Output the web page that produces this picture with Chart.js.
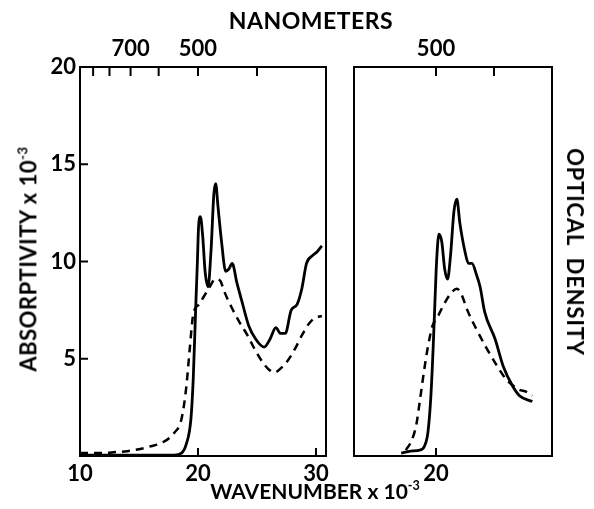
<!DOCTYPE html>
<html>
<head>
<meta charset="utf-8">
<script src="https://cdn.jsdelivr.net/npm/chart.js@4.4.1/dist/chart.umd.min.js"></script>
<style>
  body { margin: 0; background: #fff; }
  #wrap { position: relative; width: 594px; height: 509px; overflow: hidden; font-family: Lato, sans-serif; font-weight: bold; color: #000; }
  canvas { position: absolute; top: 0; }
  .lbl { position: absolute; white-space: nowrap; line-height: 1; }
  .lbl sup { font-size: 0.6em; vertical-align: 0.7em; }
</style>
</head>
<body>
<div id="wrap">
  <canvas id="leftCanvas" width="340" height="509" style="left:0"></canvas>
  <canvas id="rightCanvas" width="254" height="509" style="left:340px"></canvas>
  <div class="lbl" id="nmTitle" style="left:311px; top:20px; font-size:23px; letter-spacing:0.5px; transform:translate(-50%,-50%)">NANOMETERS</div>
  <div class="lbl" id="wnTitle" style="left:315px; top:490px; font-size:21px; transform:translate(-50%,-50%)">WAVENUMBER x 10<sup>-3</sup></div>
  <div class="lbl" id="absTitle" style="left:28px; top:259px; font-size:22px; letter-spacing:0.5px; transform:translate(-50%,-50%) rotate(-90deg)">ABSORPTIVITY x 10<sup>-3</sup></div>
  <div class="lbl" id="odTitle" style="left:575px; top:252px; font-size:22px; letter-spacing:0.8px; transform:translate(-50%,-50%) rotate(90deg)">OPTICAL&nbsp; DENSITY</div>
</div>
<script>
// wavenumber x 10^-3 on the x axis, absorptivity x 10^-3 on the y axis

// left panel
var leftSolidX = [10, 12, 14, 16, 18, 18.6, 19.0, 19.4, 19.6, 19.8, 19.95, 20.05, 20.2, 20.4, 20.6, 20.85, 21.1, 21.35, 21.5, 21.7, 22.0, 22.35, 22.6, 22.9, 23.3, 23.7, 24.3, 24.9, 25.6, 26.1, 26.6, 27.0, 27.4, 27.9, 28.4, 28.8, 29.2, 29.7, 30.1, 30.5];
var leftSolidY = [0.05, 0.05, 0.05, 0.05, 0.05, 0.15, 0.6, 1.9, 4.0, 7.5, 10.0, 11.8, 12.3, 11.3, 9.5, 8.7, 10.5, 13.5, 14.0, 12.8, 11.0, 9.5, 9.6, 9.9, 8.9, 8.0, 6.7, 6.0, 5.6, 6.0, 6.6, 6.3, 6.3, 7.5, 7.8, 8.6, 9.9, 10.3, 10.5, 10.8];

var leftDashX = [10, 12, 13, 14, 15, 16, 17, 18, 18.6, 19.0, 19.3, 19.6, 20.1, 20.5, 20.9, 21.5, 21.9, 22.2, 22.8, 23.5, 24.2, 24.8, 25.5, 26.0, 26.5, 27.0, 27.6, 28.3, 28.8, 29.4, 29.9, 30.5];
var leftDashY = [0.15, 0.15, 0.2, 0.25, 0.35, 0.5, 0.7, 1.2, 1.9, 3.5, 5.5, 7.3, 7.8, 8.2, 8.6, 9.1, 9.0, 8.5, 7.7, 6.9, 6.2, 5.5, 4.8, 4.45, 4.3, 4.5, 4.9, 5.6, 6.2, 6.8, 7.1, 7.2];

// right panel
var rightSolidX = [17.0, 17.8, 18.6, 19.0, 19.3, 19.55, 19.75, 19.9, 20.05, 20.25, 20.5, 20.75, 21.0, 21.25, 21.55, 21.8, 22.05, 22.5, 22.8, 23.1, 23.5, 23.8, 24.2, 25.1, 25.8, 26.6, 27.2, 28.3];
var rightSolidY = [0.15, 0.25, 0.3, 0.5, 1.2, 3.0, 5.5, 7.8, 10.0, 11.4, 11.0, 9.6, 9.1, 10.3, 12.6, 13.2, 12.0, 10.5, 9.9, 9.9, 9.3, 8.7, 7.4, 6.0, 4.6, 3.6, 3.1, 2.8];

var rightDashX = [17.4, 17.9, 18.3, 18.6, 19.0, 19.3, 19.7, 20.1, 20.6, 21.2, 21.8, 22.2, 22.7, 23.5, 24.4, 25.3, 26.1, 26.7, 27.2, 27.8, 28.3];
var rightDashY = [0.3, 0.8, 1.6, 2.8, 4.5, 5.6, 6.7, 7.1, 7.7, 8.3, 8.6, 8.3, 7.5, 6.5, 5.5, 4.6, 3.9, 3.6, 3.4, 3.3, 3.1];

// ticks
var leftWnTicks = [10, 20, 30];
var leftWnMarks = [20, 30];
var rightWnTicks = [20];
var rightWnMarks = [20];
var absTicks = [5, 10, 15, 20];
var absMarks = [5, 10, 15];
var leftNmLabels = [700, 500];
var leftNmMarks = [900, 800, 700, 600, 500, 400];
var rightNmLabels = [500];
var rightNmMarks = [500, 400];

function toPoints(xs, ys) {
    var pts = [];
    for (var i = 0; i < xs.length; i++) {
        pts.push({x: xs[i], y: ys[i]});
    }
    return pts;
}

function setTicks(values) {
    return function (scale) {
        scale.ticks = values.map(function (v) { return {value: v}; });
    };
}

var tickFont = {family: 'Lato', size: 22, weight: 'bold'};

// box around the plot area, ticks pointing inward
var panelFrame = {
    id: 'panelFrame',
    afterDraw: function (chart, args, opts) {
        var ctx = chart.ctx;
        var a = chart.chartArea;
        var len = 8;
        ctx.save();
        ctx.strokeStyle = '#000';
        ctx.lineWidth = 2;
        ctx.strokeRect(a.left, a.top, a.right - a.left, a.bottom - a.top);
        ctx.beginPath();
        (opts.bottom || []).forEach(function (v) {
            var px = chart.scales.x.getPixelForValue(v);
            ctx.moveTo(px, a.bottom);
            ctx.lineTo(px, a.bottom - len);
        });
        (opts.top || []).forEach(function (nm) {
            var px = chart.scales.x2.getPixelForValue(1e4 / nm);
            ctx.moveTo(px, a.top);
            ctx.lineTo(px, a.top + len + 1);
        });
        (opts.left || []).forEach(function (v) {
            var py = chart.scales.y.getPixelForValue(v);
            ctx.moveTo(a.left, py);
            ctx.lineTo(a.left + len, py);
        });
        ctx.stroke();
        ctx.restore();
    }
};

function makeDatasets(solidX, solidY, dashX, dashY) {
    return [{
        data: toPoints(solidX, solidY),
        borderColor: '#000',
        borderWidth: 2.8,
        pointRadius: 0,
        cubicInterpolationMode: 'monotone'
    }, {
        data: toPoints(dashX, dashY),
        borderColor: '#000',
        borderWidth: 2.5,
        borderDash: [8, 6],
        pointRadius: 0,
        cubicInterpolationMode: 'monotone'
    }];
}

var leftChart = new Chart(document.getElementById('leftCanvas'), {
    type: 'line',
    data: { datasets: makeDatasets(leftSolidX, leftSolidY, leftDashX, leftDashY) },
    plugins: [panelFrame],
    options: {
        responsive: false,
        animation: false,
        devicePixelRatio: 1,
        layout: { padding: {left: 0, right: 14, top: 0, bottom: 0} },
        plugins: {
            legend: { display: false },
            tooltip: { enabled: false },
            panelFrame: { bottom: leftWnMarks, top: leftNmMarks, left: absMarks }
        },
        scales: {
            x: {
                type: 'linear', position: 'bottom', min: 10, max: 30.85,
                afterBuildTicks: setTicks(leftWnTicks),
                afterFit: function (s) { s.height = 53; },
                grid: { display: false, drawTicks: false },
                border: { display: false },
                ticks: { font: tickFont, color: '#000', padding: 5, maxRotation: 0 }
            },
            x2: {
                type: 'linear', position: 'top', min: 10, max: 30.85,
                afterBuildTicks: setTicks(leftNmLabels.map(function (n) { return 1e4 / n; })),
                afterFit: function (s) { s.height = 67; },
                grid: { display: false, drawTicks: false },
                border: { display: false },
                ticks: {
                    font: tickFont, color: '#000', padding: 5, maxRotation: 0,
                    callback: function (v) { return Math.round(1e4 / v); }
                }
            },
            y: {
                type: 'linear', min: 0, max: 20,
                afterBuildTicks: setTicks(absTicks),
                afterFit: function (s) { s.width = 80; },
                grid: { display: false, drawTicks: false },
                border: { display: false },
                ticks: { font: tickFont, color: '#000', padding: 4 }
            }
        }
    }
});

var rightChart = new Chart(document.getElementById('rightCanvas'), {
    type: 'line',
    data: { datasets: makeDatasets(rightSolidX, rightSolidY, rightDashX, rightDashY) },
    plugins: [panelFrame],
    options: {
        responsive: false,
        animation: false,
        devicePixelRatio: 1,
        layout: { padding: {left: 14, right: 42, top: 0, bottom: 0} },
        plugins: {
            legend: { display: false },
            tooltip: { enabled: false },
            panelFrame: { bottom: rightWnMarks, top: rightNmMarks }
        },
        scales: {
            x: {
                type: 'linear', position: 'bottom', min: 12.93, max: 30,
                afterBuildTicks: setTicks(rightWnTicks),
                afterFit: function (s) { s.height = 53; },
                grid: { display: false, drawTicks: false },
                border: { display: false },
                ticks: { font: tickFont, color: '#000', padding: 5, maxRotation: 0 }
            },
            x2: {
                type: 'linear', position: 'top', min: 12.93, max: 30,
                afterBuildTicks: setTicks(rightNmLabels.map(function (n) { return 1e4 / n; })),
                afterFit: function (s) { s.height = 67; },
                grid: { display: false, drawTicks: false },
                border: { display: false },
                ticks: {
                    font: tickFont, color: '#000', padding: 5, maxRotation: 0,
                    callback: function (v) { return Math.round(1e4 / v); }
                }
            },
            y: {
                type: 'linear', min: 0, max: 20, display: false
            }
        }
    }
});
</script>
</body>
</html>
